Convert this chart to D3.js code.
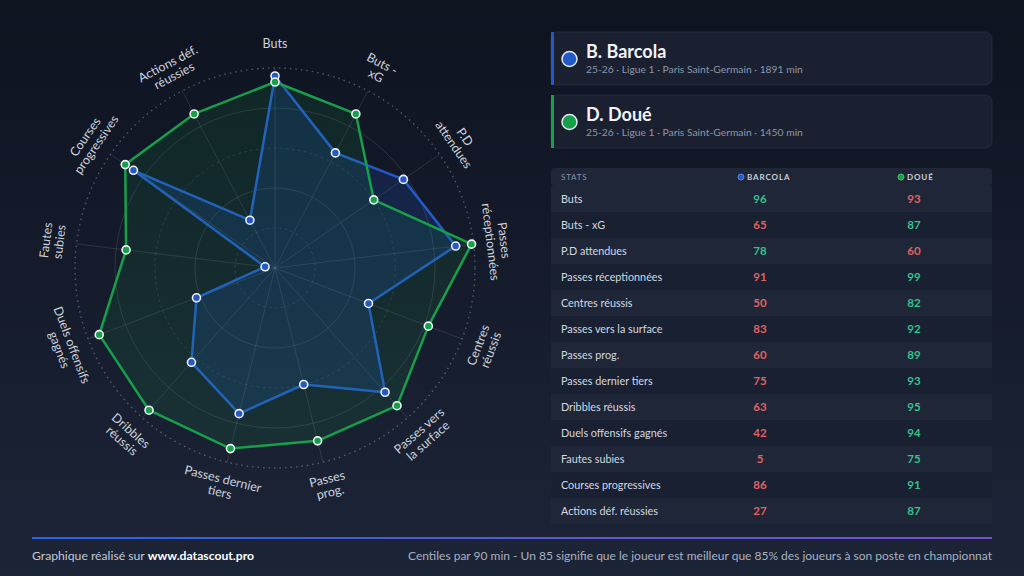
<!DOCTYPE html>
<html>
<head>
<meta charset="utf-8">
<script src="https://cdn.jsdelivr.net/npm/d3@7"></script>
<style>
  html, body { margin: 0; padding: 0; background: #111727; }
  svg { display: block; font-family: Lato, "Open Sans", sans-serif; }
</style>
</head>
<body>
<svg id="chart" width="1024" height="576"></svg>
<script>
// stats, in the order they go round the radar (clockwise from the top)
const stats = [
  'Buts', 'Buts - xG', 'P.D attendues', 'Passes réceptionnées', 'Centres réussis',
  'Passes vers la surface', 'Passes prog.', 'Passes dernier tiers', 'Dribbles réussis',
  'Duels offensifs gagnés', 'Fautes subies', 'Courses progressives', 'Actions déf. réussies'
];
// radar labels, broken over two lines like the original
const axisLabels = [
  ['Buts'], ['Buts -', 'xG'], ['P.D', 'attendues'], ['Passes', 'réceptionnées'],
  ['Centres', 'réussis'], ['Passes vers', 'la surface'], ['Passes', 'prog.'],
  ['Passes dernier', 'tiers'], ['Dribbles', 'réussis'], ['Duels offensifs', 'gagnés'],
  ['Fautes', 'subies'], ['Courses', 'progressives'], ['Actions déf.', 'réussies']
];
const barcola = [96, 65, 78, 91, 50, 83, 60, 75, 63, 42, 5, 86, 27];
const doue = [93, 87, 60, 99, 82, 92, 89, 93, 95, 94, 75, 91, 87];
const rings = [20, 40, 60, 80, 100];

const players = [
  { name: 'B. Barcola', short: 'BARCOLA', info: '25-26 · Ligue 1 · Paris Saint-Germain · 1891 min', color: '#2459c9', values: barcola },
  { name: 'D. Doué', short: 'DOUÉ', info: '25-26 · Ligue 1 · Paris Saint-Germain · 1450 min', color: '#17a049', values: doue }
];

const svg = d3.select('#chart');
const defs = svg.append('defs');

// background
const bg = defs.append('linearGradient').attr('id', 'bg')
  .attr('x1', 0).attr('y1', 0).attr('x2', 0).attr('y2', 1);
bg.append('stop').attr('offset', '0%').attr('stop-color', '#0e1320');
bg.append('stop').attr('offset', '100%').attr('stop-color', '#1c2437');
svg.append('rect').attr('width', 1024).attr('height', 576).attr('fill', 'url(#bg)');

/* ---------- radar ---------- */
const cx = 275;
const cy = 268;
const r = d3.scaleLinear().domain([0, 100]).range([0, 200]);
const angle = d3.scaleLinear().domain([0, stats.length]).range([0, 2 * Math.PI]);

const radar = svg.append('g').attr('transform', `translate(${cx},${cy})`);

// rings: dashed / solid alternating, outer one dotted
radar.selectAll('.ring')
  .data(rings)
  .enter()
  .append('circle')
  .attr('r', (d) => r(d))
  .attr('fill', 'none')
  .attr('stroke', (d) => (d === 100 ? 'rgba(200,210,230,0.35)' : 'rgba(200,215,230,0.14)'))
  .attr('stroke-width', (d) => (d === 100 ? 1.4 : 1))
  .attr('stroke-dasharray', (d) => {
    if (d === 100) return '1.5,4';
    return (d / 20) % 2 === 1 ? '3,3' : null;
  });

// spokes
radar.selectAll('.spoke')
  .data(stats)
  .enter()
  .append('line')
  .attr('x1', 0).attr('y1', 0)
  .attr('x2', (_, i) => r(100) * Math.sin(angle(i)))
  .attr('y2', (_, i) => -r(100) * Math.cos(angle(i)))
  .attr('stroke', 'rgba(200,215,230,0.14)')
  .attr('stroke-width', 1);

const line = d3.lineRadial()
  .angle((_, i) => angle(i))
  .radius((d) => r(d))
  .curve(d3.curveLinearClosed);

const fills = ['rgba(37,99,235,0.16)', 'rgba(22,163,74,0.12)'];

players.forEach((p, k) => {
  radar.append('path')
    .datum(p.values)
    .attr('d', line)
    .attr('fill', fills[k])
    .attr('stroke', p.color)
    .attr('stroke-width', 2.5)
    .attr('stroke-linejoin', 'round');
});
players.forEach((p) => {
  radar.selectAll(null)
    .data(p.values)
    .enter()
    .append('circle')
    .attr('cx', (d, i) => r(d) * Math.sin(angle(i)))
    .attr('cy', (d, i) => -r(d) * Math.cos(angle(i)))
    .attr('r', 4)
    .attr('fill', p.color)
    .attr('stroke', '#eef1f6')
    .attr('stroke-width', 1.6);
});

// axis labels, rotated along the circle and flipped on the lower half
const labelR = 224;
const lab = radar.selectAll('.lab')
  .data(axisLabels)
  .enter()
  .append('text')
  .attr('transform', (_, i) => {
    const a = angle(i);
    const deg = (a * 180) / Math.PI;
    let rot = deg;
    if (deg > 90 && deg < 270) rot = deg - 180;
    else if (deg >= 270) rot = deg - 360;
    return `translate(${labelR * Math.sin(a)},${-labelR * Math.cos(a)}) rotate(${rot})`;
  })
  .attr('text-anchor', 'middle')
  .attr('font-size', 12.5)
  .attr('fill', '#cdd2dd');
lab.selectAll('tspan')
  .data((d) => d.map((t, j) => ({ t, j, n: d.length })))
  .enter()
  .append('tspan')
  .attr('x', 0)
  .attr('y', (d) => (d.j - (d.n - 1) / 2) * 13.5)
  .attr('dy', '0.35em')
  .text((d) => d.t);

/* ---------- player cards ---------- */
const cardX = 551;
const cardW = 441;
const cardY = [32, 95];

const cards = svg.selectAll('.card')
  .data(players)
  .enter()
  .append('g')
  .attr('transform', (_, i) => `translate(${cardX},${cardY[i]})`);

cards.append('rect')
  .attr('width', cardW).attr('height', 53).attr('rx', 7)
  .attr('fill', '#1a2030')
  .attr('stroke', '#232a3a');
cards.append('rect')
  .attr('width', 3).attr('height', 53)
  .attr('fill', (d) => d.color);
cards.append('circle')
  .attr('cx', 18.5).attr('cy', 27).attr('r', 7.5)
  .attr('fill', (d) => d.color)
  .attr('stroke', '#e3e7ee').attr('stroke-width', 1.5);
cards.append('text')
  .attr('x', 35).attr('y', 26)
  .attr('font-size', 18).attr('font-weight', 700)
  .attr('fill', '#f1f3f7')
  .text((d) => d.name);
cards.append('text')
  .attr('x', 35).attr('y', 41)
  .attr('font-size', 10.3)
  .attr('fill', '#8e97a9')
  .text((d) => d.info);

/* ---------- stats table ---------- */
const tableY = 168;
const headH = 18;
const rowH = 26;
const colB = 760;
const colD = 914;

const table = svg.append('g');
table.append('rect')
  .attr('x', cardX).attr('y', tableY).attr('width', cardW).attr('height', headH)
  .attr('rx', 4)
  .attr('fill', '#1f2637');
table.append('text')
  .attr('x', 561).attr('y', tableY + headH / 2).attr('dy', '0.35em')
  .attr('font-size', 8).attr('letter-spacing', 0.8)
  .attr('fill', '#8a93a6')
  .text('STATS');

[colB, colD].forEach((x, k) => {
  const p = players[k];
  table.append('circle')
    .attr('cx', x - 19 + (k === 1 ? 6 : 0)).attr('cy', tableY + headH / 2).attr('r', 3)
    .attr('fill', p.color)
    .attr('stroke', k === 0 ? '#5b86e0' : '#3ec06a').attr('stroke-width', 1);
  table.append('text')
    .attr('x', x - 13 + (k === 1 ? 6 : 0)).attr('y', tableY + headH / 2).attr('dy', '0.35em')
    .attr('font-size', 8).attr('font-weight', 700).attr('letter-spacing', 0.9)
    .attr('fill', '#c9cfdb')
    .text(p.short);
});

const rows = table.selectAll('.row')
  .data(stats)
  .enter()
  .append('g')
  .attr('transform', (_, i) => `translate(0,${tableY + headH + i * rowH})`);

rows.append('rect')
  .attr('x', cardX).attr('width', cardW).attr('height', rowH)
  .attr('fill', (_, i) => (i % 2 === 0 ? '#1f2637' : '#182031'));
rows.append('text')
  .attr('x', 561).attr('y', rowH / 2).attr('dy', '0.35em')
  .attr('font-size', 10.8)
  .attr('fill', '#d3d8e1')
  .text((d) => d);

const good = '#35c28c';
const bad = '#e06262';
rows.append('text')
  .attr('x', colB).attr('y', rowH / 2).attr('dy', '0.35em')
  .attr('text-anchor', 'middle')
  .attr('font-size', 11.5).attr('font-weight', 700)
  .attr('fill', (_, i) => (barcola[i] >= doue[i] ? good : bad))
  .text((_, i) => barcola[i]);
rows.append('text')
  .attr('x', colD).attr('y', rowH / 2).attr('dy', '0.35em')
  .attr('text-anchor', 'middle')
  .attr('font-size', 11.5).attr('font-weight', 700)
  .attr('fill', (_, i) => (doue[i] > barcola[i] ? good : bad))
  .text((_, i) => doue[i]);

/* ---------- footer ---------- */
const fl = defs.append('linearGradient').attr('id', 'footLine');
fl.append('stop').attr('offset', '0%').attr('stop-color', '#2563eb');
fl.append('stop').attr('offset', '100%').attr('stop-color', '#7b4fd6');
svg.append('rect')
  .attr('x', 32).attr('y', 537).attr('width', 960).attr('height', 2)
  .attr('fill', 'url(#footLine)');

const credit = svg.append('text')
  .attr('x', 32).attr('y', 556).attr('dy', '0.35em')
  .attr('font-size', 12.2)
  .attr('fill', '#c4c9d4');
credit.append('tspan').text('Graphique réalisé sur ');
credit.append('tspan').attr('font-weight', 700).attr('fill', '#ffffff').text('www.datascout.pro');

svg.append('text')
  .attr('x', 992).attr('y', 556).attr('dy', '0.35em')
  .attr('text-anchor', 'end')
  .attr('font-size', 12)
  .attr('fill', '#aab1bf')
  .text('Centiles par 90 min - Un 85 signifie que le joueur est meilleur que 85% des joueurs à son poste en championnat');
</script>
</body>
</html>
